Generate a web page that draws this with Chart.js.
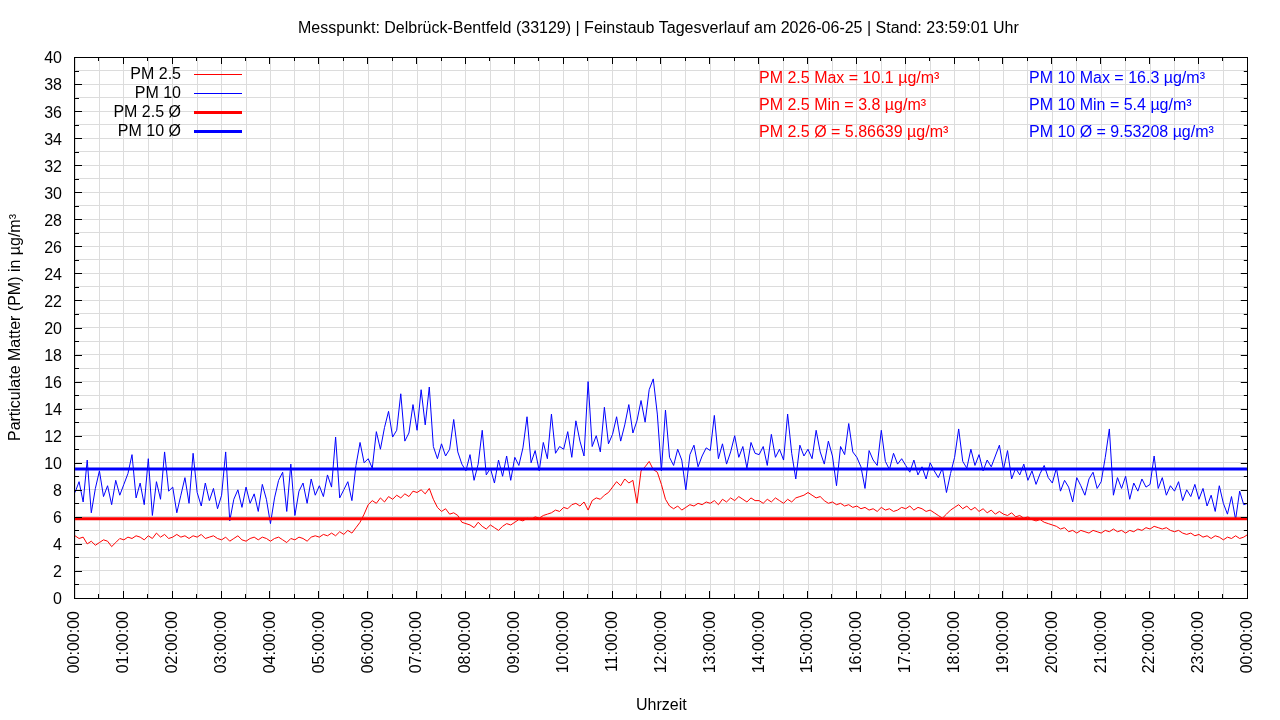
<!DOCTYPE html>
<html lang="de">
<head>
<meta charset="utf-8">
<title>Feinstaub Tagesverlauf</title>
<script src="https://cdn.jsdelivr.net/npm/chart.js@4.4.1/dist/chart.umd.min.js"></script>
<style>
  html, body { margin: 0; padding: 0; background: #fff; }
  #wrap { width: 1280px; height: 720px; }
</style>
</head>
<body>
<div id="wrap"><canvas id="pmChart" width="1280" height="720"></canvas></div>
<script>
const SAMPLE_MINUTES = 5;

const pm10 = [
  7.8, 8.6, 7.1, 10.2, 6.3, 8.1, 9.4, 7.5, 8.3, 6.9, 8.7, 7.6,
  8.4, 9.2, 10.6, 7.4, 8.5, 6.9, 10.3, 6.1, 8.6, 7.3, 10.8, 7.9,
  8.2, 6.3, 7.6, 8.9, 7.0, 10.7, 7.8, 6.8, 8.5, 7.2, 8.1, 6.6,
  7.6, 10.8, 5.7, 7.3, 8.0, 6.7, 8.2, 7.0, 7.7, 6.4, 8.4, 7.3,
  5.5, 7.4, 8.7, 9.3, 6.4, 9.9, 6.1, 7.9, 8.5, 7.0, 8.8, 7.6,
  8.3, 7.5, 9.1, 8.2, 11.9, 7.4, 8.0, 8.6, 7.2, 9.8, 11.5, 10.0,
  10.3, 9.6, 12.3, 11.0, 12.6, 13.8, 11.9, 12.4, 15.1, 11.6, 12.2, 14.3,
  12.4, 15.4, 12.8, 15.6, 11.2, 10.3, 11.4, 10.5, 11.0, 13.2, 10.8, 9.9,
  9.4, 10.6, 8.7, 9.9, 12.4, 9.1, 9.6, 8.5, 10.2, 9.0, 10.5, 8.7,
  10.4, 9.8, 11.1, 13.4, 10.0, 10.9, 9.4, 11.5, 10.3, 13.6, 10.7, 11.2,
  11.0, 12.3, 10.4, 13.1, 11.6, 10.5, 16.0, 11.2, 12.0, 10.8, 14.1, 11.4,
  12.1, 13.4, 11.6, 12.8, 14.3, 12.2, 13.1, 14.6, 13.0, 15.4, 16.2, 13.6,
  9.4, 13.9, 10.4, 9.8, 11.0, 10.2, 8.0, 10.6, 11.3, 9.7, 10.5, 11.1,
  10.9, 13.5, 10.3, 11.4, 9.9, 10.8, 12.0, 10.4, 11.2, 9.6, 11.5, 10.7,
  10.6, 11.2, 9.8, 12.1, 10.4, 11.0, 10.2, 13.6, 10.7, 8.8, 11.3, 10.5,
  11.0, 10.3, 12.4, 10.8, 9.9, 11.6, 10.5, 8.3, 11.2, 10.6, 12.9, 10.8,
  10.4, 9.7, 8.1, 10.9, 10.2, 9.8, 12.4, 10.1, 9.5, 10.7, 9.9, 10.3,
  9.8, 9.3, 10.2, 9.1, 9.7, 8.8, 10.0, 9.4, 8.9, 9.6, 7.8, 9.2,
  10.4, 12.5, 10.1, 9.6, 11.0, 9.8, 10.6, 9.4, 10.2, 9.7, 10.5, 11.3,
  9.5, 10.9, 8.8, 9.6, 9.1, 9.9, 8.7, 9.4, 8.4, 9.2, 9.8, 8.9,
  8.5, 9.6, 7.9, 8.7, 8.2, 7.1, 8.9, 8.3, 7.6, 8.8, 9.3, 8.1,
  8.6, 10.4, 12.5, 7.6, 8.9, 8.1, 9.0, 7.3, 8.5, 7.9, 8.8, 8.2,
  8.4, 10.5, 8.1, 8.9, 7.6, 8.3, 7.9, 8.6, 7.2, 8.0, 7.5, 8.4,
  7.3, 8.1, 6.8, 7.6, 6.4, 8.3, 7.0, 6.2, 7.5, 5.8, 7.9, 6.9,
  7.0
];

const pm25 = [
  4.6, 4.4, 4.5, 4.0, 4.2, 3.9, 4.1, 4.3, 4.2, 3.8, 4.1, 4.4,
  4.3, 4.5, 4.4, 4.6, 4.5, 4.3, 4.6, 4.4, 4.8, 4.5, 4.7, 4.4,
  4.5, 4.7, 4.5, 4.6, 4.4, 4.6, 4.5, 4.7, 4.4, 4.5, 4.6, 4.4,
  4.3, 4.5, 4.2, 4.4, 4.6, 4.3, 4.2, 4.4, 4.5, 4.3, 4.5, 4.4,
  4.2, 4.4, 4.5, 4.3, 4.1, 4.4, 4.3, 4.5, 4.4, 4.2, 4.5, 4.6,
  4.5, 4.7, 4.6, 4.8, 4.6, 4.9, 4.7, 5.0, 4.8, 5.2, 5.6, 6.2,
  6.9, 7.2, 7.0, 7.4, 7.1, 7.5, 7.3, 7.6, 7.4, 7.7, 7.5, 7.9,
  7.8, 8.0, 7.7, 8.1, 7.3, 6.7, 6.4, 6.6, 6.2, 6.3, 6.1, 5.6,
  5.5, 5.4, 5.2, 5.6, 5.3, 5.1, 5.4, 5.2, 5.0, 5.3, 5.5, 5.4,
  5.6, 5.8, 5.7, 5.9, 5.8, 6.0, 5.9, 6.1, 6.2, 6.3, 6.5, 6.4,
  6.7, 6.6, 6.9, 7.0, 6.8, 7.1, 6.5, 7.2, 7.4, 7.3, 7.6, 7.8,
  8.2, 8.6, 8.3, 8.8, 8.5, 8.7, 7.0, 9.4, 9.7, 10.1, 9.5, 9.3,
  8.4, 7.3, 6.8, 6.6, 6.8, 6.5, 6.7, 6.9, 6.8, 7.0, 6.9, 7.1,
  7.0, 7.2, 6.9, 7.3, 7.1, 7.4, 7.2, 7.5, 7.3, 7.1, 7.4, 7.2,
  7.2, 7.0, 7.3, 7.1, 7.4, 7.2, 7.0, 7.3, 7.1, 7.4, 7.5, 7.6,
  7.8, 7.6, 7.4, 7.5, 7.2, 7.0, 7.1, 6.9, 7.0, 6.8, 6.9, 6.7,
  6.8, 6.6, 6.7, 6.5, 6.6, 6.4, 6.7, 6.5, 6.6, 6.4, 6.5, 6.7,
  6.6, 6.8, 6.5, 6.7, 6.6, 6.4, 6.5, 6.3, 6.1, 5.9, 6.2, 6.5,
  6.7, 6.9, 6.6, 6.8, 6.5, 6.7, 6.4, 6.6, 6.3, 6.5, 6.2, 6.4,
  6.2, 6.1, 6.3, 6.0, 6.1, 5.9, 6.0, 5.8, 5.7, 5.8, 5.6, 5.5,
  5.4, 5.3, 5.1, 5.2, 4.9, 5.0, 4.8, 5.0, 4.9, 4.8, 5.0, 4.9,
  4.8, 5.0, 4.9, 5.1, 4.9, 5.0, 4.8, 5.0, 4.9, 5.1, 5.0, 5.2,
  5.1, 5.3, 5.2, 5.1, 5.2, 5.0, 4.9, 5.0, 4.8, 4.7, 4.8, 4.6,
  4.7, 4.5, 4.6, 4.4, 4.6, 4.5, 4.3, 4.5, 4.4, 4.6, 4.4, 4.5,
  4.7
];

// Tagesmittelwerte
const pm25Avg = 5.86639;
const pm10Avg = 9.53208;

const titleText = 'Messpunkt: Delbrück-Bentfeld (33129) | Feinstaub Tagesverlauf am 2026-06-25 | Stand: 23:59:01 Uhr';
const statsPm25 = ['PM 2.5 Max = 10.1 µg/m³', 'PM 2.5 Min = 3.8 µg/m³', 'PM 2.5 Ø = 5.86639 µg/m³'];
const statsPm10 = ['PM 10 Max = 16.3 µg/m³', 'PM 10 Min = 5.4 µg/m³', 'PM 10 Ø = 9.53208 µg/m³'];

const RED = '#ff0000';
const BLUE = '#0000ff';
const FONT = 'Liberation Sans, Arial, sans-serif';

function toPoints(values) {
    return values.map((v, i) => ({ x: i * SAMPLE_MINUTES, y: v }));
}

function avgLine(v) {
    return [{ x: 0, y: v }, { x: 24 * 60, y: v }];
}

function timeLabel(min) {
    const h = String(Math.floor(min / 60) % 24).padStart(2, '0');
    return h + ':00:00';
}

// Rahmen und Tickmarken nach innen (wie gnuplot)
const frameTicks = {
    id: 'frameTicks',
    afterDatasetsDraw(chart) {
        const { ctx, chartArea: a, scales: { x, y } } = chart;
        ctx.save();
        ctx.strokeStyle = '#000';
        ctx.lineWidth = 1;
        ctx.beginPath();
        x.ticks.forEach(t => {
            const px = Math.round(x.getPixelForValue(t.value)) - 0.5;
            const len = t.value % 60 === 0 ? 7 : 4;
            ctx.moveTo(px, a.bottom); ctx.lineTo(px, a.bottom - len);
            ctx.moveTo(px, a.top); ctx.lineTo(px, a.top + len);
        });
        y.ticks.forEach(t => {
            const py = Math.round(y.getPixelForValue(t.value)) + 0.5;
            const len = t.value % 2 === 0 ? 7 : 4;
            ctx.moveTo(a.left, py); ctx.lineTo(a.left + len, py);
            ctx.moveTo(a.right, py); ctx.lineTo(a.right - len, py);
        });
        ctx.stroke();
        ctx.strokeRect(Math.round(a.left) - 0.5, Math.round(a.top) + 0.5,
            Math.round(a.right - a.left), Math.round(a.bottom - a.top));
        ctx.restore();
    }
};

// Titel (über dem Plotbereich zentriert), Legende oben links und Statistik-Texte
const keyAndStats = {
    id: 'keyAndStats',
    afterDraw(chart) {
        const { ctx, chartArea: a } = chart;
        ctx.save();
        ctx.font = '16px ' + FONT;
        ctx.textBaseline = 'middle';
        ctx.fillStyle = '#000';
        ctx.textAlign = 'center';
        ctx.fillText(titleText, (a.left + a.right) / 2 - 3, 28.5);
        chart.data.datasets.forEach((ds, i) => {
            const yRow = 75 + i * 19;
            ctx.fillStyle = '#000';
            ctx.textAlign = 'right';
            ctx.fillText(ds.label, 181, yRow);
            ctx.strokeStyle = ds.borderColor;
            ctx.lineWidth = ds.borderWidth;
            ctx.beginPath();
            ctx.moveTo(194, yRow - 0.5);
            ctx.lineTo(242, yRow - 0.5);
            ctx.stroke();
        });
        ctx.textAlign = 'left';
        statsPm25.forEach((s, i) => {
            ctx.fillStyle = RED;
            ctx.fillText(s, 759, 79 + i * 27);
        });
        statsPm10.forEach((s, i) => {
            ctx.fillStyle = BLUE;
            ctx.fillText(s, 1029, 79 + i * 27);
        });
        ctx.restore();
    }
};

Chart.defaults.font.family = FONT;
Chart.defaults.font.size = 16;
Chart.defaults.color = '#000';

const ctx = document.getElementById('pmChart').getContext('2d');
const pmChart = new Chart(ctx, {
    type: 'line',
    data: {
        datasets: [
            { label: 'PM 2.5', data: toPoints(pm25), borderColor: RED, borderWidth: 1, order: 4 },
            { label: 'PM 10', data: toPoints(pm10), borderColor: BLUE, borderWidth: 1, order: 3 },
            { label: 'PM 2.5 Ø', data: avgLine(pm25Avg), borderColor: RED, borderWidth: 3, order: 2 },
            { label: 'PM 10 Ø', data: avgLine(pm10Avg), borderColor: BLUE, borderWidth: 3, order: 1 }
        ]
    },
    options: {
        responsive: false,
        animation: false,
        devicePixelRatio: 1,
        layout: { padding: { top: 57, left: 0, right: 30, bottom: 0 } },
        elements: {
            point: { radius: 0 },
            line: { tension: 0, fill: false, borderJoinStyle: 'miter' }
        },
        plugins: {
            legend: { display: false },
            tooltip: { enabled: false },
            title: { display: false }
        },
        scales: {
            x: {
                type: 'linear',
                min: 0,
                max: 24 * 60,
                afterFit: s => { s.height = 720 - 598; },
                ticks: {
                    stepSize: 30,
                    autoSkip: false,
                    minRotation: 90,
                    maxRotation: 90,
                    padding: 13,
                    callback: v => (v % 60 === 0 ? timeLabel(v) : '')
                },
                grid: { color: '#dcdcdc', drawTicks: false },
                border: { display: false },
                title: { display: true, text: 'Uhrzeit', padding: { top: 0, bottom: 5 } }
            },
            y: {
                min: 0,
                max: 40,
                afterFit: s => { s.width = 75; },
                ticks: {
                    stepSize: 1,
                    autoSkip: false,
                    padding: 13,
                    labelOffset: 2,
                    callback: v => (v % 2 === 0 ? v : '')
                },
                grid: { color: '#dcdcdc', drawTicks: false },
                border: { display: false },
                title: { display: true, text: 'Particulate Matter (PM) in µg/m³', padding: { top: 6, bottom: 0 } }
            }
        }
    },
    plugins: [frameTicks, keyAndStats]
});
</script>
</body>
</html>
